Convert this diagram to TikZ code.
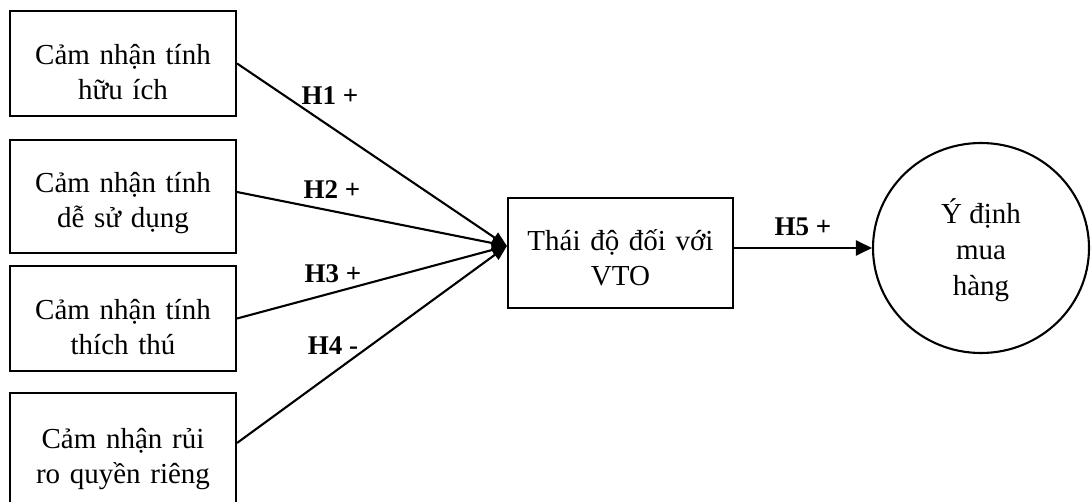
\documentclass[tikz,border=0pt]{standalone}
\usepackage{fontspec}
\setmainfont{Liberation Serif}
\usetikzlibrary{shapes.geometric,arrows.meta,calc}
% invisible strut that sets the height of a first text line
\newcommand\firstline[1]{\rule{0pt}{#1}}
\begin{document}
\begin{tikzpicture}[x=1pt,y=-1pt,
  every node/.style={font=\fontsize{29}{35}\selectfont},
  factor/.style={draw,line width=2.1pt,minimum width=226pt,text width=222pt,
    inner sep=0pt,align=center},
  goalnode/.style={draw,ellipse,line width=2.1pt,minimum width=216pt,
    minimum height=210pt,inner sep=0pt,align=center,
    font=\fontsize{29}{36}\selectfont},
  hyp/.style={font=\fontsize{27}{30}\selectfont\bfseries,inner sep=0pt},
  link/.style={line width=2.1pt,-{Triangle[length=15pt,width=12pt]}},
  mainlink/.style={line width=2.1pt,-{Triangle[length=16pt,width=15pt]}}]
\useasboundingbox (0,0) rectangle (1091,502);
\clip (0,0) rectangle (1091,502);

% antecedent constructs
\node[factor,minimum height=105pt] (b1) at (123,63.5) {\firstline{38pt}Cảm nhận tính\\hữu ích};
\node[factor,minimum height=113pt] (b2) at (123,196.5) {\firstline{33pt}Cảm nhận tính\\dễ sử dụng};
\node[factor,minimum height=105pt] (b3) at (123,318.5) {\firstline{38pt}Cảm nhận tính\\thích thú};
\node[factor,minimum height=133pt] (b4) at (123,459.5) {Cảm nhận rủi\\ro quyền riêng};

% mediator and outcome
\node[factor,minimum width=225pt,text width=218pt,minimum height=110pt] (vto) at (620.5,253) {\firstline{31pt}Thái độ đối với\\VTO};
\node[goalnode] (goal) at (981,248) {\firstline{30pt}Ý định\\mua\\hàng};

% common end point of the four paths
\coordinate (m) at ($(vto.west)+(0,-7)$);

\draw[link] (b1.east) -- (m);
\draw[link] ($(b2.east)+(0,-4.5)$) -- (m);
\draw[link] (b3.east) -- (m);
\draw[link] ($(b4.north east)+(0,51)$) -- (m);
\draw[mainlink] (vto.east |- goal.west) -- (goal.west);

% hypothesis labels
\node[hyp] (h1) at (330,96) {H1 +};
\node[hyp] (h2) at (332,190) {H2 +};
\node[hyp] (h3) at (333,274) {H3 +};
\node[hyp] (h4) at (333,346) {H4 -};
\node[hyp] (h5) at (803,227) {H5 +};
\end{tikzpicture}
\end{document}
